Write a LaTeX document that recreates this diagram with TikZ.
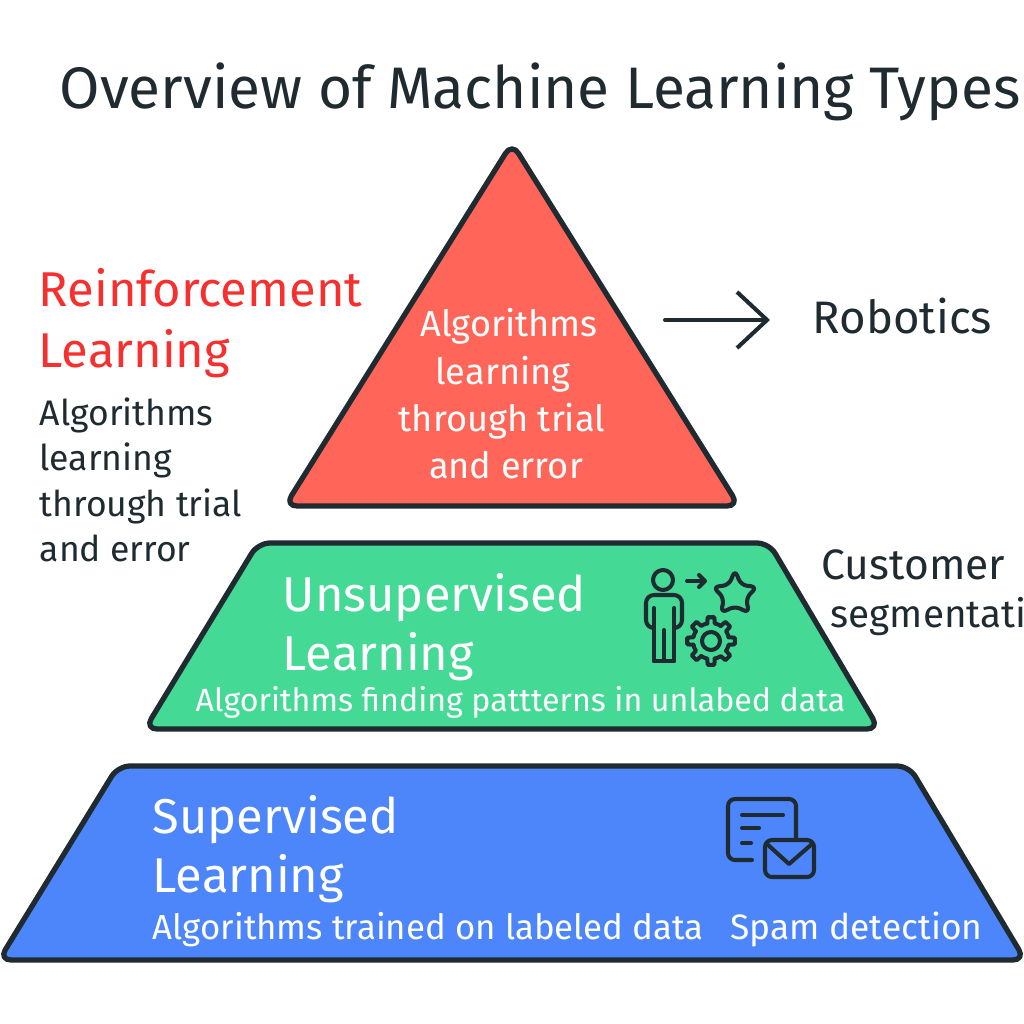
\documentclass[tikz,border=0pt]{standalone}
\usepackage{fontspec}
\setmainfont{Fira Sans}
\usepackage[svgnames]{xcolor}
\usetikzlibrary{arrows,arrows.meta}
\usetikzlibrary{positioning}
\definecolor{inkdark}{HTML}{1F2B30}
\definecolor{redtier}{HTML}{FF6659}
\definecolor{greentier}{HTML}{45D996}
\definecolor{bluetier}{HTML}{4D86FA}
\definecolor{redhead}{HTML}{F5302F}
\tikzset{
	tier/.style={line width=1.5pt, draw=inkdark, rounded corners=0.12cm, line join=round},
	icon/.style={line width=1.15pt, draw=inkdark, line cap=round, line join=round},
	lbl/.style={inner sep=0pt, anchor=base west, align=left},
	whitelbl/.style={lbl, text=white},
	headfont/.style={font=\fontsize{13.9}{13.9}\selectfont},
	bodyfont/.style={font=\fontsize{10.3}{10.3}\selectfont},
	leftfont/.style={font=\fontsize{10.1}{10.1}\selectfont},
	custfont/.style={font=\fontsize{12.1}{12.1}\selectfont},
}
\begin{document}
\begin{tikzpicture}[x=0.01cm, y=-0.01cm]
	\useasboundingbox (0,0) rectangle (1024,1024);
	\fill [white] (0,0) rectangle (1024,1024);
	% tiers
	\draw [tier, fill=redtier] (512,143) -- (739,506) -- (285,506) -- cycle;
	\draw [tier, fill=greentier] (258,543) -- (769,543) -- (879,729) -- (145,729) -- cycle;
	\draw [tier, fill=bluetier] (118,766) -- (909,766) -- (1025,960) -- (-1,960) -- cycle;
	% title
	\node (title) [lbl, text=inkdark, font=\fontsize{16.65}{16.65}\selectfont] at (59,108) {Overview of Machine Learning Types};
	% left column
	\node (rl1) [lbl, text=redhead, headfont] at (38,306) {Reinforcement};
	\node (rl2) [lbl, text=redhead, headfont] at (38,367) {Learning};
	\node (rd1) [lbl, text=inkdark, leftfont] at (39,425) {Algorithms};
	\node (rd2) [lbl, text=inkdark, leftfont] at (39,470) {learning};
	\node (rd3) [lbl, text=inkdark, leftfont] at (39,516) {through trial};
	\node (rd4) [lbl, text=inkdark, leftfont] at (39,561) {and error};
	% red tier text
	\node (t1) [whitelbl, bodyfont, anchor=base] at (509,336) {Algorithms};
	\node (t2) [whitelbl, bodyfont, anchor=base] at (503,384) {learning};
	\node (t3) [whitelbl, bodyfont, anchor=base] at (502,431) {through trial};
	\node (t4) [whitelbl, bodyfont, anchor=base] at (506,478) {and error};
	% green tier text
	\node (u1) [whitelbl, headfont] at (282,611) {Unsupervised};
	\node (u2) [whitelbl, headfont] at (282,670) {Learning};
	\node (u3) [whitelbl, font=\fontsize{9.15}{9.15}\selectfont] at (195,711) {Algorithms finding pattterns in unlabed data};
	% blue tier text
	\node (s1) [whitelbl, headfont] at (152,833) {Supervised};
	\node (s2) [whitelbl, headfont] at (152,892) {Learning};
	\node (s3) [whitelbl, font=\fontsize{9.9}{9.9}\selectfont] at (152,939) {Algorithms trained on labeled data};
	\node (s4) [whitelbl, font=\fontsize{10.05}{10.05}\selectfont] at (730,939) {Spam detection};
	% right side
	\node (rob) [lbl, text=inkdark, font=\fontsize{12.95}{12.95}\selectfont] at (812,333) {Robotics};
	\node (cu1) [lbl, text=inkdark, custfont] at (821,579) {Customer};
	\node (cu2) [lbl, text=inkdark, font=\fontsize{11}{11}\selectfont] at (830,627) {segmentati};
	\coordinate (arrstart) at (665,320);
	\coordinate (arrend) at (770,320);
	\draw [line width=1.15pt, draw=inkdark, line cap=round, -{Straight Barb[length=0.3cm, width=0.56cm, line width=1.15pt]}] (arrstart) -- (arrend);
	% person icon
	\draw [icon] (663,580) circle [radius=10];
	\draw [icon] (654,661) -- (674,661);
	\draw [icon] (654,608) -- (654,661);
	\draw [icon] (674,608) -- (674,661);
	\draw [icon] (664,630) -- (664,661);
	\draw [icon, rounded corners=0.08cm] (654,628) -- (646,628) -- (646,595) -- (682,595) -- (682,628) -- (674,628);
	\draw [icon] (687,581) -- (704,581);
	\draw [icon] (699,575) -- (705,581) -- (699,587);
	% star icon
	\draw [icon, rounded corners=0.06cm] (735,570) -- (741,585) -- (757,587) -- (746,598) -- (749,613) -- (735,606) -- (721,613) -- (724,598) -- (713,587) -- (729,585) -- cycle;
	% gear icon
	\draw [icon] (711,641) circle [radius=9];
	\foreach \a in {0,45,...,315}
		\draw [icon, shift={(711,641)}] (\a-12:18) -- (\a-8:24) -- (\a+8:24) -- (\a+12:18) arc [start angle=\a+12, end angle=\a+33, radius=18];
	% document and envelope icon
	\draw [icon, rounded corners=0.07cm] (796,838) -- (796,799) -- (728,799) -- (728,860) -- (752,860);
	\draw [icon] (742,815) -- (783,815);
	\draw [icon] (742,828) -- (759,828);
	\draw [icon] (742,843) -- (751,843);
	\draw [icon, rounded corners=0.07cm] (765,840) rectangle (814,877);
	\draw [icon] (767,844) -- (789,864) -- (812,844);
\end{tikzpicture}
\end{document}
